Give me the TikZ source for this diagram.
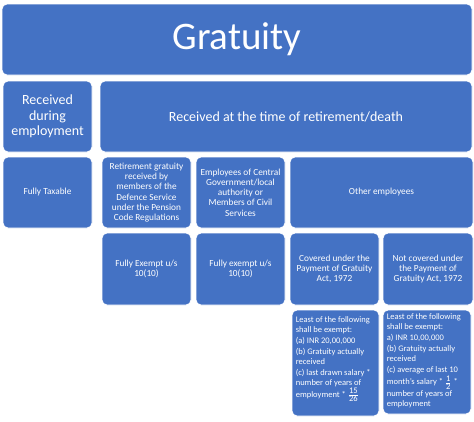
\documentclass[tikz,border=0pt]{standalone}
\usepackage{fontspec}
\setmainfont{Carlito}
\definecolor{boxblue}{HTML}{4472C4}
\tikzset{
  box/.style={fill=boxblue, draw=white, line width=0.8pt, rounded corners=5pt, text=white, align=center, inner sep=2pt},
  big/.style={font=\fontsize{39}{44}\selectfont},
  mid/.style={font=\fontsize{14}{15.5}\selectfont},
  small/.style={font=\fontsize{9.3}{10.3}\selectfont},
  tiny/.style={text=white, align=left, anchor=north west, inner sep=0pt, font=\fontsize{8.5}{9.4}\selectfont}
}
\begin{document}
\begin{tikzpicture}[x=1pt,y=-1pt]
\useasboundingbox (0,0) rectangle (474,421);
\fill[white] (0,0) rectangle (474,421);
\node[box,big,minimum width=470pt,minimum height=71pt] (title) at (237,39.5) {Gratuity};
\node[box,mid,minimum width=89pt,minimum height=71pt] (during) at (47.5,116.5) {Received\\during\\employment};
\node[box,mid,minimum width=372pt,minimum height=71pt] (retire) at (286,116.5) {Received at the time of retirement/death};
\node[box,small,minimum width=89pt,minimum height=71pt] (taxable) at (47.5,192.5) {Fully Taxable};
\node[box,small,minimum width=89pt,minimum height=71pt] (defence) at (146.5,192.5) {Retirement gratuity\\received by\\members of the\\Defence Service\\under the Pension\\Code Regulations};
\node[box,small,minimum width=89pt,minimum height=71pt] (central) at (240.5,192.5) {Employees of Central\\Government/local\\authority or\\Members of Civil\\Services};
\node[box,small,minimum width=183pt,minimum height=71pt] (other) at (381.5,192.5) {Other employees};
\node[box,small,minimum width=89pt,minimum height=72pt] (exempta) at (146.5,269) {Fully Exempt u/s\\10(10)};
\node[box,small,minimum width=89pt,minimum height=72pt] (exemptb) at (240.5,269) {Fully exempt u/s\\10(10)};
\node[box,small,minimum width=89pt,minimum height=72pt] (covered) at (334.5,269) {Covered under the\\Payment of Gratuity\\Act, 1972};
\node[box,small,minimum width=90pt,minimum height=72pt] (notcovered) at (428,269) {Not covered under\\the Payment of\\Gratuity Act, 1972};
\node[box,minimum width=87pt,minimum height=106pt] (leasta) at (335.5,363) {};
\node[box,minimum width=88pt,minimum height=104pt] (leastb) at (427,362) {};
\node[tiny] (leastatext) at ([xshift=4pt,yshift=-7pt]leasta.north west) {Least of the following\\shall be exempt:\\[2pt](a) INR 20,00,000\\[2pt](b) Gratuity actually\\received\\[2pt](c) last drawn salary *\\number of years of\\[1pt]employment * $\frac{\mbox{15}}{\mbox{26}}$};
\node[tiny] (leastbtext) at ([xshift=4pt,yshift=-4pt]leastb.north west) {Least of the following\\shall be exempt:\\[2pt]a) INR 10,00,000\\[2pt](b) Gratuity actually\\received\\[2pt](c) average of last 10\\[1pt]month's salary * $\frac{\mbox{1}}{\mbox{2}}$ *\\[1pt]number of years of\\employment};
\end{tikzpicture}
\end{document}
